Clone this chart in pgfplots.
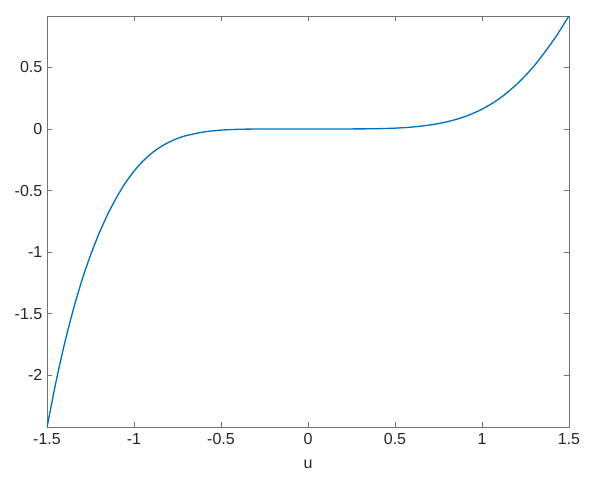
\documentclass[border=0pt]{standalone}
\usepackage{pgfplots}
\pgfplotsset{compat=1.18}
\usepackage{fontspec}
\setmainfont{Liberation Sans}
\definecolor{mblue}{rgb}{0,0.447,0.741}
\definecolor{axgray}{rgb}{0.15,0.15,0.15}

\begin{document}
\begin{tikzpicture}
% page size = 596x480 px at 0.75pt per px; axis box lower left at (0,0)
\path[use as bounding box] (-35.25pt,-39.75pt) rectangle (411.75pt,320.25pt);
\begin{axis}[
    scale only axis,
    width=391.5pt,
    height=308.25pt,
    xmin=-1.5, xmax=1.5,
    ymin=-2.42, ymax=0.917,
    xtick={-1.5,-1,-0.5,0,0.5,1,1.5},
    ytick={-2,-1.5,-1,-0.5,0,0.5},
    tick align=inside,
    major tick length=3.75pt,
    axis line style={black!55, line width=0.6pt},
    every tick/.style={black!55, line width=0.6pt},
    tick label style={font=\fontsize{12}{14}\selectfont, text=axgray},
    xticklabel style={yshift=-1.5pt},
    /pgf/number format/assume math mode=true,
    xlabel={u},
    xlabel style={font=\fontsize{12}{14}\selectfont, text=axgray, yshift=-4.5pt},
  ]
  \addplot[mblue, line width=1pt, smooth] coordinates {
    (-1.5,-2.4224) (-1.45,-2.0646) (-1.4,-1.7479) (-1.35,-1.4730)
    (-1.3,-1.2327) (-1.25,-1.0254) (-1.2,-0.8460) (-1.15,-0.6899)
    (-1.1,-0.5556) (-1.05,-0.4390) (-1.0,-0.3430) (-0.95,-0.2631)
    (-0.9,-0.1990) (-0.85,-0.1480) (-0.8,-0.1081) (-0.75,-0.0774)
    (-0.7,-0.0541) (-0.6,-0.0245) (-0.5,-0.0095) (-0.4,-0.0030)
    (-0.3,-0.0007) (-0.2,-0.0001) (0,0) (0.2,0.0001) (0.3,0.0005)
    (0.4,0.0022) (0.5,0.0064) (0.6,0.0156) (0.7,0.0319) (0.8,0.0583)
    (0.9,0.0992) (1.0,0.1600) (1.1,0.2464) (1.2,0.3633) (1.3,0.5124)
    (1.4,0.6992) (1.45,0.8047) (1.5,0.9188)
  };
\end{axis}
\end{tikzpicture}
\end{document}
